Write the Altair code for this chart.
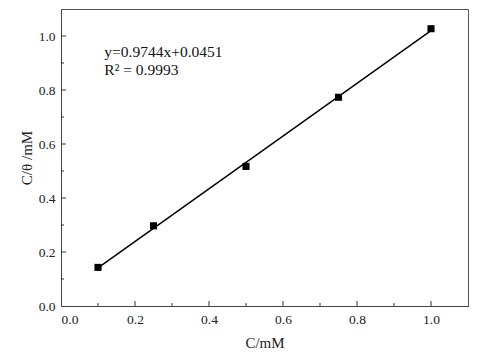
import altair as alt
import pandas as pd

conc = [0.1, 0.25, 0.5, 0.75, 1.0]
ratio = [0.143, 0.297, 0.517, 0.773, 1.027]
eq_text = ["y=0.9744x+0.0451", "R² = 0.9993"]
eq_x = [0.117, 0.117]
eq_y = [0.94, 0.873]
major_ticks = [0.2, 0.4, 0.6, 0.8, 1.0]
minor_ticks = [0.1, 0.3, 0.5, 0.7, 0.9]

df = pd.DataFrame({"x": conc, "y": ratio})
ann = pd.DataFrame({"t": eq_text, "x": eq_x, "y": eq_y})
tmaj = pd.DataFrame({"v": major_ticks})
tmin = pd.DataFrame({"v": minor_ticks})

W, H = 407, 297
FONT = "Liberation Serif"
xs = alt.Scale(domain=[0, 1.1], nice=False)
ys = alt.Scale(domain=[0, 1.1], nice=False)
major = [0, 0.2, 0.4, 0.6, 0.8, 1.0]

xaxis = alt.Axis(values=major, format=".1f", ticks=False, grid=False,
                 domainColor="#444",
                 labelFont=FONT, labelFontSize=13.5, labelColor="#222", labelPadding=6,
                 titleFont=FONT, titleFontSize=15, titleFontWeight="normal", titleColor="#222",
                 titlePadding=10)
yaxis = alt.Axis(values=major, format=".1f", ticks=False, grid=False,
                 domainColor="#444",
                 labelFont=FONT, labelFontSize=13.5, labelColor="#222", labelPadding=6,
                 titleFont=FONT, titleFontSize=15, titleFontWeight="normal", titleColor="#222",
                 titlePadding=4)

base = alt.Chart(df)

pts = base.mark_square(size=50, color="black", opacity=1).encode(
    x=alt.X("x:Q", scale=xs, axis=xaxis, title="C/mM"),
    y=alt.Y("y:Q", scale=ys, axis=yaxis, title="C/θ /mM"),
)

fit = base.transform_regression("x", "y", extent=[0.1, 1.0]).mark_line(
    color="black", strokeWidth=1.5).encode(
    x=alt.X("x:Q", scale=xs), y=alt.Y("y:Q", scale=ys))

def xticks(d, length):
    return alt.Chart(d).mark_rule(color="#333", strokeWidth=1).encode(
        x=alt.X("v:Q", scale=xs), y=alt.value(H), y2=alt.value(H - length))

def yticks(d, length):
    return alt.Chart(d).mark_rule(color="#333", strokeWidth=1).encode(
        y=alt.Y("v:Q", scale=ys), x=alt.value(0), x2=alt.value(length))

txt = alt.Chart(ann).mark_text(align="left", baseline="middle", font=FONT, fontSize=15.5,
                               color="#111").encode(
    x=alt.X("x:Q", scale=xs), y=alt.Y("y:Q", scale=ys), text="t:N")

chart = alt.layer(pts, fit, txt, xticks(tmaj, 5), xticks(tmin, 3),
                  yticks(tmaj, 5), yticks(tmin, 3)).properties(
    width=W, height=H,
    autosize=alt.AutoSizeParams(type="none"),
    padding={"left": 61, "top": 9, "right": 32, "bottom": 48},
).configure_view(stroke="#555", strokeWidth=1)

chart.save("out.html", embed_options={"renderer": "svg", "actions": False})
